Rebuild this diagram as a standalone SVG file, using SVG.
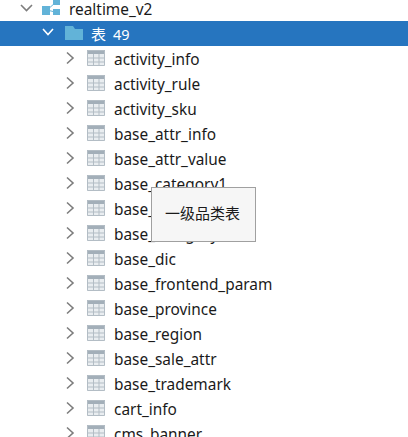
<svg xmlns="http://www.w3.org/2000/svg" width="408" height="437" viewBox="0 0 408 437">
<style>
text{font-family:"Noto Sans","Open Sans","Noto Sans CJK SC",sans-serif;font-size:15.400px;fill:#1a1a1a}
.chev{fill:none;stroke:#7d7d7d;stroke-width:1.6}
</style>
<defs>
<g id="tbl">
<rect x="0" y="0" width="18" height="16" fill="#e9edf0"/>
<rect x="0" y="0" width="18" height="4" fill="#a3afb9"/>
<path d="M0.5 0.5H17.500V15.500H0.500Z M0.500 8H17.500 M0.500 12H17.500 M6.500 4V16 M12 4V16" fill="none" stroke="#b3bdc5"/>
</g>
<path id="cr" d="M-3 -5.500L3 0L-3 5.500" class="chev"/>
</defs>
<rect width="408" height="437" fill="#fff"/>
<g id="db">
<path d="M21 5L26.500 10.500L32 5" class="chev"/>
<g fill="#62b3d8"><rect x="42" y="6" width="8" height="9"/><rect x="53" y="0" width="7" height="5"/><rect x="53" y="9" width="7" height="6"/></g>
<path d="M47 10L55 3M47 10L55 12" stroke="#62b3d8" fill="none"/>
<text x="69" y="15">realtime_v2</text>
</g>
<g id="folder">
<rect x="0" y="21" width="408" height="25" fill="#2675bf"/>
<path d="M43 29L48 34.500L53 29" fill="none" stroke="#fff" stroke-width="1.600"/>
<path d="M65 40V26H73L75 29H83V40Z" fill="#62b3d8"/>
<text x="91" y="40" style="fill:#fff;font-size:15px;font-family:'Noto Sans CJK SC','Noto Sans',sans-serif">表</text>
<text x="113" y="40" style="fill:#fff;font-size:14.500px">49</text>
</g>
<g id="rows">
<g id="r1"><use href="#cr" x="70" y="58"/><use href="#tbl" x="87" y="50"/><text x="114" y="65">activity_info</text></g>
<g id="r2"><use href="#cr" x="70" y="83"/><use href="#tbl" x="87" y="75"/><text x="114" y="90">activity_rule</text></g>
<g id="r3"><use href="#cr" x="70" y="108"/><use href="#tbl" x="87" y="100"/><text x="114" y="115">activity_sku</text></g>
<g id="r4"><use href="#cr" x="70" y="133"/><use href="#tbl" x="87" y="125"/><text x="114" y="140">base_attr_info</text></g>
<g id="r5"><use href="#cr" x="70" y="158"/><use href="#tbl" x="87" y="150"/><text x="114" y="165">base_attr_value</text></g>
<g id="r6"><use href="#cr" x="70" y="183"/><use href="#tbl" x="87" y="175"/><text x="114" y="190">base_category1</text></g>
<g id="r7"><use href="#cr" x="70" y="208"/><use href="#tbl" x="87" y="200"/><text x="114" y="215">base_category2</text></g>
<g id="r8"><use href="#cr" x="70" y="233"/><use href="#tbl" x="87" y="225"/><text x="114" y="240">base_category3</text></g>
<g id="r9"><use href="#cr" x="70" y="258"/><use href="#tbl" x="87" y="250"/><text x="114" y="265">base_dic</text></g>
<g id="r10"><use href="#cr" x="70" y="283"/><use href="#tbl" x="87" y="275"/><text x="114" y="290">base_frontend_param</text></g>
<g id="r11"><use href="#cr" x="70" y="308"/><use href="#tbl" x="87" y="300"/><text x="114" y="315">base_province</text></g>
<g id="r12"><use href="#cr" x="70" y="333"/><use href="#tbl" x="87" y="325"/><text x="114" y="340">base_region</text></g>
<g id="r13"><use href="#cr" x="70" y="358"/><use href="#tbl" x="87" y="350"/><text x="114" y="365">base_sale_attr</text></g>
<g id="r14"><use href="#cr" x="70" y="383"/><use href="#tbl" x="87" y="375"/><text x="114" y="390">base_trademark</text></g>
<g id="r15"><use href="#cr" x="70" y="408"/><use href="#tbl" x="87" y="400"/><text x="114" y="415">cart_info</text></g>
<g id="r16"><use href="#cr" x="70" y="433"/><use href="#tbl" x="87" y="425"/><text x="114" y="440">cms_banner</text></g>
</g>
<g id="tooltip">
<rect x="151.500" y="187.500" width="104" height="54" fill="#f6f6f6" stroke="#a0a0a0"/>
<text x="165" y="219" style="font-size:15px;font-family:'Noto Sans CJK SC',sans-serif">一级品类表</text>
</g>
</svg>
